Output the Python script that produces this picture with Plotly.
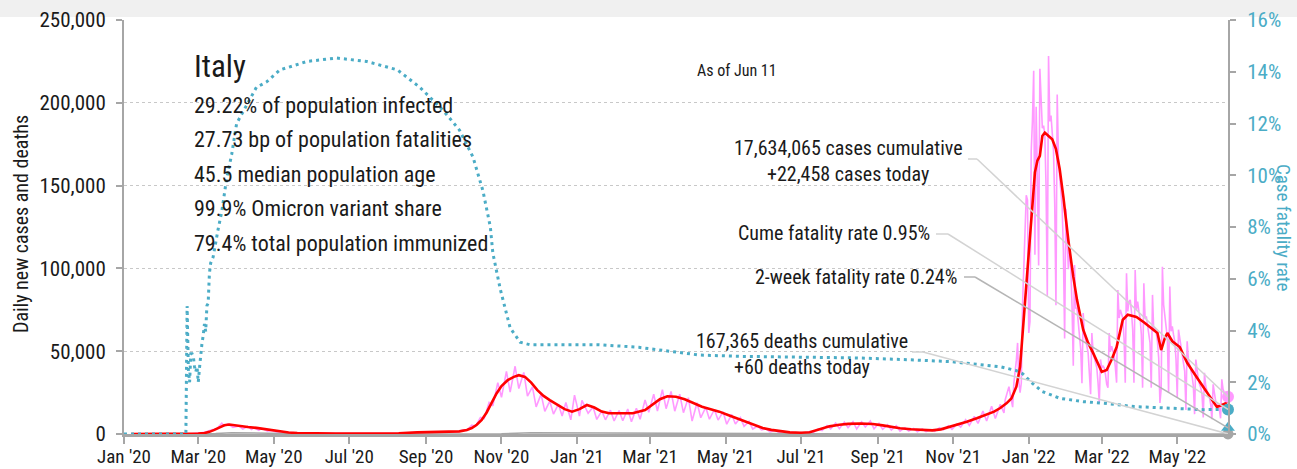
import pandas as pd
import plotly.graph_objects as go

FONT = "Roboto Condensed, Roboto, sans-serif"
TEAL = "#4bacc6"
PINK = "#ff99ff"
RED = "#ff0000"
GRAY = "#a6a6a6"

AS_OF = "2022-06-11"
X_START = "2020-01-01"
Y_MAX = 250000
Y2_MAX = 16

# headline figures
cases_cumulative = 17634065
cases_today = 22458
deaths_cumulative = 167365
deaths_today = 60
cfr_cume = 0.95
cfr_2wk = 0.24

stats_lines = [
    "29.22% of population infected",
    "27.73 bp of population fatalities",
    "45.5 median population age",
    "99.9% Omicron variant share",
    "79.4% total population immunized",
]

# 7-day average of new cases
avg_dates = [
    "2020-01-07", "2020-02-20", "2020-02-25", "2020-03-01", "2020-03-06", "2020-03-10",
    "2020-03-14", "2020-03-18", "2020-03-22", "2020-03-26", "2020-03-30", "2020-04-03",
    "2020-04-10", "2020-04-17", "2020-04-25", "2020-05-01", "2020-05-06", "2020-05-13",
    "2020-05-20", "2020-06-01", "2020-06-20", "2020-07-10", "2020-07-25", "2020-08-10",
    "2020-08-25", "2020-09-10", "2020-09-28", "2020-10-04", "2020-10-08", "2020-10-12",
    "2020-10-16", "2020-10-20", "2020-10-24", "2020-10-28", "2020-11-01", "2020-11-06",
    "2020-11-11", "2020-11-15", "2020-11-20", "2020-11-25", "2020-11-30", "2020-12-05",
    "2020-12-10", "2020-12-16", "2020-12-22", "2020-12-28", "2021-01-03", "2021-01-09",
    "2021-01-15", "2021-01-21", "2021-01-27", "2021-02-05", "2021-02-15", "2021-02-25",
    "2021-03-03", "2021-03-09", "2021-03-15", "2021-03-22", "2021-03-29", "2021-04-05",
    "2021-04-12", "2021-04-19", "2021-04-26", "2021-05-03", "2021-05-10", "2021-05-17",
    "2021-05-24", "2021-05-31", "2021-06-07", "2021-06-14", "2021-06-22", "2021-07-01",
    "2021-07-08", "2021-07-16", "2021-07-24", "2021-08-01", "2021-08-08", "2021-08-18",
    "2021-08-28", "2021-09-05", "2021-09-12", "2021-09-19", "2021-09-28", "2021-10-08",
    "2021-10-15", "2021-10-22", "2021-10-29", "2021-11-05", "2021-11-12", "2021-11-20",
    "2021-11-28", "2021-12-04", "2021-12-09", "2021-12-14", "2021-12-18", "2021-12-22",
    "2021-12-25", "2021-12-27", "2021-12-30", "2022-01-01", "2022-01-04", "2022-01-06",
    "2022-01-08", "2022-01-10", "2022-01-12", "2022-01-14", "2022-01-17", "2022-01-20",
    "2022-01-23", "2022-01-26", "2022-01-29", "2022-02-02", "2022-02-06", "2022-02-09",
    "2022-02-14", "2022-02-18", "2022-02-22", "2022-02-26", "2022-03-01", "2022-03-05",
    "2022-03-09", "2022-03-13", "2022-03-16", "2022-03-18", "2022-03-22", "2022-03-29",
    "2022-04-04", "2022-04-09", "2022-04-15", "2022-04-18", "2022-04-21", "2022-04-23",
    "2022-04-27", "2022-05-03", "2022-05-09", "2022-05-17", "2022-05-25", "2022-06-02",
    "2022-06-06", "2022-06-09", "2022-06-11",
]
avg_cases = [
    0, 0, 50, 250, 600, 1300,
    2500, 4000, 5300, 5700, 5200, 4700,
    4200, 3700, 2800, 2000, 1400, 900,
    600, 350, 250, 200, 250, 450,
    1000, 1400, 1600, 2400, 3600, 5600,
    8500, 13000, 18500, 24500, 29000, 32500,
    34500, 35500, 34500, 31000, 26500, 23000,
    20500, 17500, 15000, 13500, 15000, 17500,
    16000, 13500, 12500, 12500, 12500, 14500,
    18000, 21000, 22800, 22500, 21000, 18500,
    16500, 15000, 13500, 11500, 9500, 7500,
    5300, 3600, 2500, 1700, 1000, 800,
    1100, 2800, 4600, 5600, 6100, 6300,
    6000, 5200, 4300, 3500, 2900, 2400,
    2200, 2800, 4200, 5800, 7400, 9500,
    11800, 13500, 15700, 18500, 21500, 28600,
    40600, 61000, 88000, 108000, 141000, 158000,
    165000, 168000, 180000, 182000, 180000, 178000,
    172000, 160000, 143000, 117000, 95000, 81000,
    63000, 55000, 49000, 42000, 37500, 38600,
    45000, 52500, 62000, 69000, 72000, 70700,
    67500, 64600, 61000, 50700, 58000, 61000,
    56000, 52500, 43000, 34000, 24800, 16300,
    17500, 18500, 20500,
]

# daily new cases up to Dec 11 2021 (weekly low / high points)
daily_early_dates = [
    "2020-01-07", "2020-02-20", "2020-02-24", "2020-03-01", "2020-03-07", "2020-03-12",
    "2020-03-16", "2020-03-20", "2020-03-22", "2020-03-25", "2020-03-29", "2020-04-03",
    "2020-04-06", "2020-04-10", "2020-04-13", "2020-04-15", "2020-04-19", "2020-04-21",
    "2020-04-26", "2020-04-29", "2020-05-03", "2020-05-07", "2020-05-10", "2020-05-14",
    "2020-05-24", "2020-06-15", "2020-07-10", "2020-08-10", "2020-08-25", "2020-09-10",
    "2020-09-27", "2020-10-01", "2020-10-04", "2020-10-08", "2020-10-11", "2020-10-15",
    "2020-10-18", "2020-10-22", "2020-10-25", "2020-10-29", "2020-11-01", "2020-11-05",
    "2020-11-08", "2020-11-12", "2020-11-15", "2020-11-19", "2020-11-22", "2020-11-26",
    "2020-11-29", "2020-12-03", "2020-12-06", "2020-12-10", "2020-12-13", "2020-12-17",
    "2020-12-20", "2020-12-23", "2020-12-27", "2020-12-30", "2021-01-03", "2021-01-05",
    "2021-01-10", "2021-01-14", "2021-01-17", "2021-01-21", "2021-01-24", "2021-01-28",
    "2021-01-31", "2021-02-04", "2021-02-07", "2021-02-11", "2021-02-14", "2021-02-18",
    "2021-02-21", "2021-02-25", "2021-02-28", "2021-03-04", "2021-03-07", "2021-03-11",
    "2021-03-14", "2021-03-18", "2021-03-21", "2021-03-25", "2021-03-28", "2021-04-01",
    "2021-04-04", "2021-04-08", "2021-04-11", "2021-04-15", "2021-04-18", "2021-04-22",
    "2021-04-25", "2021-04-29", "2021-05-02", "2021-05-06", "2021-05-09", "2021-05-13",
    "2021-05-16", "2021-05-20", "2021-05-23", "2021-05-27", "2021-05-30", "2021-06-03",
    "2021-06-06", "2021-06-10", "2021-06-13", "2021-06-17", "2021-06-20", "2021-06-24",
    "2021-06-27", "2021-07-01", "2021-07-04", "2021-07-08", "2021-07-11", "2021-07-15",
    "2021-07-18", "2021-07-22", "2021-07-25", "2021-07-29", "2021-08-01", "2021-08-05",
    "2021-08-08", "2021-08-12", "2021-08-15", "2021-08-19", "2021-08-22", "2021-08-26",
    "2021-08-29", "2021-09-02", "2021-09-05", "2021-09-09", "2021-09-12", "2021-09-16",
    "2021-09-19", "2021-09-23", "2021-09-26", "2021-09-30", "2021-10-03", "2021-10-07",
    "2021-10-10", "2021-10-14", "2021-10-17", "2021-10-21", "2021-10-24", "2021-10-28",
    "2021-10-31", "2021-11-04", "2021-11-07", "2021-11-11", "2021-11-14", "2021-11-18",
    "2021-11-21", "2021-11-25", "2021-11-28", "2021-12-02", "2021-12-05", "2021-12-09",
]
daily_early_cases = [
    0, 0, 100, 500, 1200, 2600,
    3200, 6500, 4800, 6100, 4000, 4800,
    3000, 4700, 2700, 3800, 2250, 3400,
    1700, 2100, 1200, 1400, 750, 900,
    300, 250, 200, 450, 1000, 1400,
    1400, 2500, 2200, 5300, 4600, 10000,
    9300, 19100, 17000, 31000, 22200, 37800,
    25300, 40900, 27400, 37200, 22900, 28400,
    16400, 24100, 13700, 19900, 12000, 18000,
    10900, 19000, 8600, 23500, 10800, 20300,
    12500, 16300, 8800, 14000, 8600, 14400,
    7900, 14200, 7970, 15100, 7350, 15500,
    8900, 20500, 13100, 24000, 13900, 26800,
    15300, 25700, 13800, 24000, 12900, 21900,
    7800, 18900, 9800, 16100, 8900, 14800,
    8400, 13400, 5900, 11800, 6000, 9900,
    4600, 7600, 3000, 4800, 2500, 3000,
    1300, 2200, 900, 1600, 500, 1000,
    400, 900, 500, 1400, 900, 3100,
    2100, 5100, 3100, 6600, 3200, 7200,
    3800, 7400, 3000, 7300, 4200, 7800,
    3100, 6500, 2800, 5600, 2400, 5000,
    1700, 3800, 1800, 3400, 1400, 3000,
    1500, 2700, 1600, 3800, 2500, 5000,
    2800, 6100, 4200, 8600, 5100, 10600,
    6400, 13800, 7900, 16800, 9400, 17900,
]

# daily new cases from Sunday Dec 12 2021, one row per week (Sun..Sat)
daily_late_start = "2021-12-12"
daily_late_cases = [
    12700, 20700, 23200, 26100, 28600, 24300, 20000,
    16200, 30800, 36300, 44600, 55000, 31800, 24900,
    30800, 78300, 98000, 126900, 144200, 141300, 61000,
    68000, 170800, 189100, 219400, 108300, 197600, 155700,
    101800, 220500, 196200, 184600, 186300, 180400, 149500,
    83400, 228200, 188800, 192300, 179100, 171300, 138900,
    77700, 205000, 167200, 155700, 143900, 137100, 110600,
    57700, 136000, 119000, 99500, 112300, 100100, 77000,
    41200, 102000, 76000, 75900, 66500, 62000, 51000,
    30600, 73000, 60000, 57000, 53000, 49000, 39000,
    24000, 61000, 50000, 46000, 43000, 40000, 31000,
    18700, 45000, 40000, 41000, 40000, 36000, 30000,
    28000, 61000, 50000, 53000, 50000, 48000, 40000,
    31000, 87000, 70000, 75000, 73000, 70000, 58000,
    31000, 97000, 74000, 80000, 81000, 74000, 63000,
    31000, 99000, 75000, 80000, 74000, 70000, 60000,
    28000, 91000, 70000, 71000, 66000, 63000, 55000,
    28000, 84000, 62000, 64000, 61000, 56000, 46000,
    18700, 27000, 101000, 78000, 70000, 66000, 58000,
    24700, 89000, 62000, 65000, 60000, 56000, 45000,
    22000, 63000, 58000, 53000, 49000, 44000, 38000,
    14500, 56000, 45000, 42000, 38000, 35000, 29000,
    12000, 45000, 37000, 33000, 30000, 28000, 24000,
    10000, 37000, 29000, 26000, 24000, 22000, 18000,
    9000, 30000, 24000, 20000, 19000, 17000, 15000,
    9500, 33000, 27000, 25000, 25000, 23000, 22458,
]

# 7-day average of daily deaths
death_dates = [
    "2020-01-07", "2020-02-25", "2020-03-15", "2020-03-28", "2020-04-10", "2020-04-30",
    "2020-05-31", "2020-07-01", "2020-10-01", "2020-11-01", "2020-11-25", "2020-12-10",
    "2021-01-15", "2021-02-15", "2021-03-20", "2021-04-15", "2021-05-15", "2021-06-15",
    "2021-07-15", "2021-09-01", "2021-10-15", "2021-12-01", "2021-12-31", "2022-01-20",
    "2022-02-15", "2022-03-15", "2022-04-15", "2022-05-15", "2022-06-11",
]
death_avg = [
    0, 5, 250, 800, 600, 300,
    70, 15, 20, 200, 700, 650,
    450, 300, 430, 380, 150, 40,
    15, 55, 40, 70, 150, 350,
    250, 140, 140, 100, 60,
]

# cumulative case fatality rate, %
cfr_dates = [
    "2020-01-01", "2020-02-20", "2020-02-21", "2020-02-22", "2020-02-23", "2020-02-24",
    "2020-02-25", "2020-02-26", "2020-02-27", "2020-02-28", "2020-02-29", "2020-03-01",
    "2020-03-02", "2020-03-03", "2020-03-04", "2020-03-05", "2020-03-06", "2020-03-07",
    "2020-03-08", "2020-03-09", "2020-03-10", "2020-03-11", "2020-03-13", "2020-03-17",
    "2020-03-20", "2020-03-24", "2020-03-28", "2020-04-01", "2020-04-10", "2020-04-17",
    "2020-04-25", "2020-05-06", "2020-05-28", "2020-06-21", "2020-07-15", "2020-08-09",
    "2020-08-27", "2020-09-15", "2020-09-28", "2020-10-09", "2020-10-17", "2020-10-23",
    "2020-10-25", "2020-10-31", "2020-11-08", "2020-11-16", "2020-11-24", "2020-12-15",
    "2021-01-19", "2021-02-20", "2021-03-15", "2021-04-10", "2021-05-15", "2021-07-01",
    "2021-08-15", "2021-10-01", "2021-10-29", "2021-12-09", "2021-12-22", "2021-12-27",
    "2022-01-04", "2022-01-12", "2022-01-26", "2022-02-14", "2022-03-03", "2022-03-27",
    "2022-04-24", "2022-05-22", "2022-06-11",
]
cfr_values = [
    0, 0, 4.95, 2.5, 2.0, 3.1,
    3.1, 3.0, 2.6, 2.4, 2.6, 2.0,
    2.55, 3.2, 3.5, 3.8, 4.25, 3.96,
    4.96, 5.05, 6.2, 6.6, 6.84, 7.9,
    8.6, 9.9, 10.8, 12.0, 12.8, 13.4,
    13.6, 14.07, 14.4, 14.53, 14.4, 14.07,
    13.4, 12.5, 11.75, 10.7, 9.4, 8.0,
    7.0, 5.6, 4.1, 3.55, 3.45, 3.45,
    3.45, 3.35, 3.2, 3.05, 3.0, 2.98,
    2.94, 2.86, 2.8, 2.6, 2.45, 2.33,
    1.96, 1.64, 1.38, 1.25, 1.19, 1.06,
    0.99, 0.94, 0.95,
]

late_dates = pd.date_range(daily_late_start, periods=len(daily_late_cases), freq="D")
daily_dates = list(pd.to_datetime(daily_early_dates)) + list(late_dates)
daily_cases = daily_early_cases + daily_late_cases

x0 = pd.Timestamp(X_START)
x1 = pd.Timestamp(AS_OF)

# plotting-area geometry in pixels
PLOT_L, PLOT_R, PLOT_T, PLOT_B = 124, 1228, 20, 434
FIG_W, FIG_H = 1297, 469


def px_x(px):
    return (px - PLOT_L) / (PLOT_R - PLOT_L)


def px_y(py):
    return (PLOT_B - py) / (PLOT_B - PLOT_T)


def paper_date(fx):
    """Date at a horizontal fraction of the plotting area."""
    return x0 + (x1 - x0) * fx


fig = go.Figure()

fig.add_trace(go.Scatter(x=daily_dates, y=daily_cases, mode="lines",
                         line=dict(color=PINK, width=1.6), name="Daily new cases"))
fig.add_trace(go.Scatter(x=death_dates, y=death_avg, mode="lines",
                         line=dict(color=GRAY, width=1.5), name="Daily deaths"))
fig.add_trace(go.Scatter(x=avg_dates, y=avg_cases, mode="lines",
                         line=dict(color=RED, width=2.6), name="7-day average"))
fig.add_trace(go.Scatter(x=cfr_dates, y=cfr_values, mode="lines", yaxis="y2",
                         line=dict(color=TEAL, width=3, dash="3px,4px"),
                         name="Case fatality rate"))

# connectors from the labels to today's markers: (label end px, elbow px, row py, target, axis, colour)
connectors = [
    (968, 977, 159, cases_today, "y", "#d3d3d3"),
    (936, 948, 234, cfr_cume, "y2", "#d3d3d3"),
    (964, 975, 277, cfr_2wk, "y2", "#b5b5b5"),
    (912, 923, 352, deaths_today, "y", "#d3d3d3"),
]
for pa, pb, py, target, axis, col in connectors:
    ya = px_y(py) * (Y_MAX if axis == "y" else Y2_MAX)
    fig.add_shape(type="line", xref="x", yref=axis, x0=paper_date(px_x(pa)),
                  x1=paper_date(px_x(pb)), y0=ya, y1=ya,
                  line=dict(color=col, width=1.5), layer="above")
    fig.add_shape(type="line", xref="x", yref=axis, x0=paper_date(px_x(pb)), x1=x1,
                  y0=ya, y1=target, line=dict(color=col, width=1.5), layer="above")

# today's markers
fig.add_trace(go.Scatter(x=[AS_OF], y=[deaths_today], mode="markers", cliponaxis=False,
                         marker=dict(color=GRAY, size=11), showlegend=False))
fig.add_trace(go.Scatter(x=[AS_OF], y=[cases_today], mode="markers", cliponaxis=False,
                         marker=dict(color=PINK, size=12), showlegend=False))
fig.add_trace(go.Scatter(x=[AS_OF], y=[cfr_cume], mode="markers", yaxis="y2", cliponaxis=False,
                         marker=dict(color=TEAL, size=12), showlegend=False))
fig.add_trace(go.Scatter(x=[AS_OF], y=[cfr_2wk], mode="markers", yaxis="y2", cliponaxis=False,
                         marker=dict(color=TEAL, size=12, symbol="triangle-up"),
                         showlegend=False))

annotations = []


def label(text, px, py, size=20, anchor="left", color="#1a1a1a", angle=0):
    annotations.append(dict(text=text, x=px_x(px), y=px_y(py), xref="paper", yref="paper",
                            xanchor=anchor, yanchor="middle", showarrow=False,
                            textangle=angle, font=dict(family=FONT, size=size, color=color)))


label("Italy", 192, 66, size=31)
for i, line in enumerate(stats_lines):
    label(line, 192, 105 + i * 34.6, size=22)

label("As of Jun 11", 737, 70, size=16, anchor="center")
label(f"{cases_cumulative:,} cases cumulative", 848, 148, anchor="center")
label(f"+{cases_today:,} cases today", 848, 174, anchor="center")
label(f"Cume fatality rate {cfr_cume:.2f}%", 932, 233, anchor="right")
label(f"2-week fatality rate {cfr_2wk:.2f}%", 959, 277, anchor="right")
label(f"{deaths_cumulative:,} deaths cumulative", 802, 341, anchor="center")
label(f"+{deaths_today} deaths today", 802, 367, anchor="center")

label("Daily new cases and deaths", 21, 224, size=20, anchor="center", angle=-90)
label("Case fatality rate", 1284, 227, size=19, anchor="center", color=TEAL, angle=90)

# header strip above the plot
fig.add_shape(type="rect", xref="paper", yref="paper", x0=px_x(0), x1=px_x(FIG_W),
              y0=px_y(17), y1=px_y(0), fillcolor="#f0f0f0", line=dict(width=0), layer="below")

fig.update_layout(
    width=FIG_W, height=FIG_H, autosize=False,
    margin=dict(l=PLOT_L, r=FIG_W - PLOT_R, t=PLOT_T, b=FIG_H - PLOT_B, autoexpand=False),
    paper_bgcolor="white", plot_bgcolor="white",
    showlegend=False,
    annotations=annotations,
    font=dict(family=FONT, size=20, color="#1a1a1a"),
    xaxis=dict(type="date", range=[X_START, AS_OF], tick0=X_START, dtick="M2",
               tickformat="%b '%y", ticks="outside", ticklen=7, tickwidth=1.5,
               tickcolor=GRAY, showline=True, linecolor=GRAY, linewidth=3,
               showgrid=False, zeroline=False, automargin=False, ticklabelstandoff=-4,
               tickfont=dict(family=FONT, size=19, color="#1a1a1a")),
    yaxis=dict(range=[0, Y_MAX], dtick=50000, tickformat=",d", ticks="outside",
               ticklen=6, tickwidth=1.5, tickcolor=GRAY, showline=True, linecolor=GRAY,
               linewidth=2, showgrid=True, gridcolor="#c8c8c8", griddash="dot",
               gridwidth=1, zeroline=False, automargin=False, ticklabelstandoff=6,
               tickfont=dict(family=FONT, size=21, color="#1a1a1a")),
    yaxis2=dict(range=[0, Y2_MAX], dtick=2, ticksuffix="%", overlaying="y", side="right",
                ticks="outside", ticklen=6, tickwidth=1.5, tickcolor=GRAY, showline=True,
                linecolor=GRAY, linewidth=2, showgrid=False, zeroline=False,
                automargin=False, ticklabelstandoff=7,
                tickfont=dict(family=FONT, size=21, color=TEAL)),
)

fig.write_html("out.html")
